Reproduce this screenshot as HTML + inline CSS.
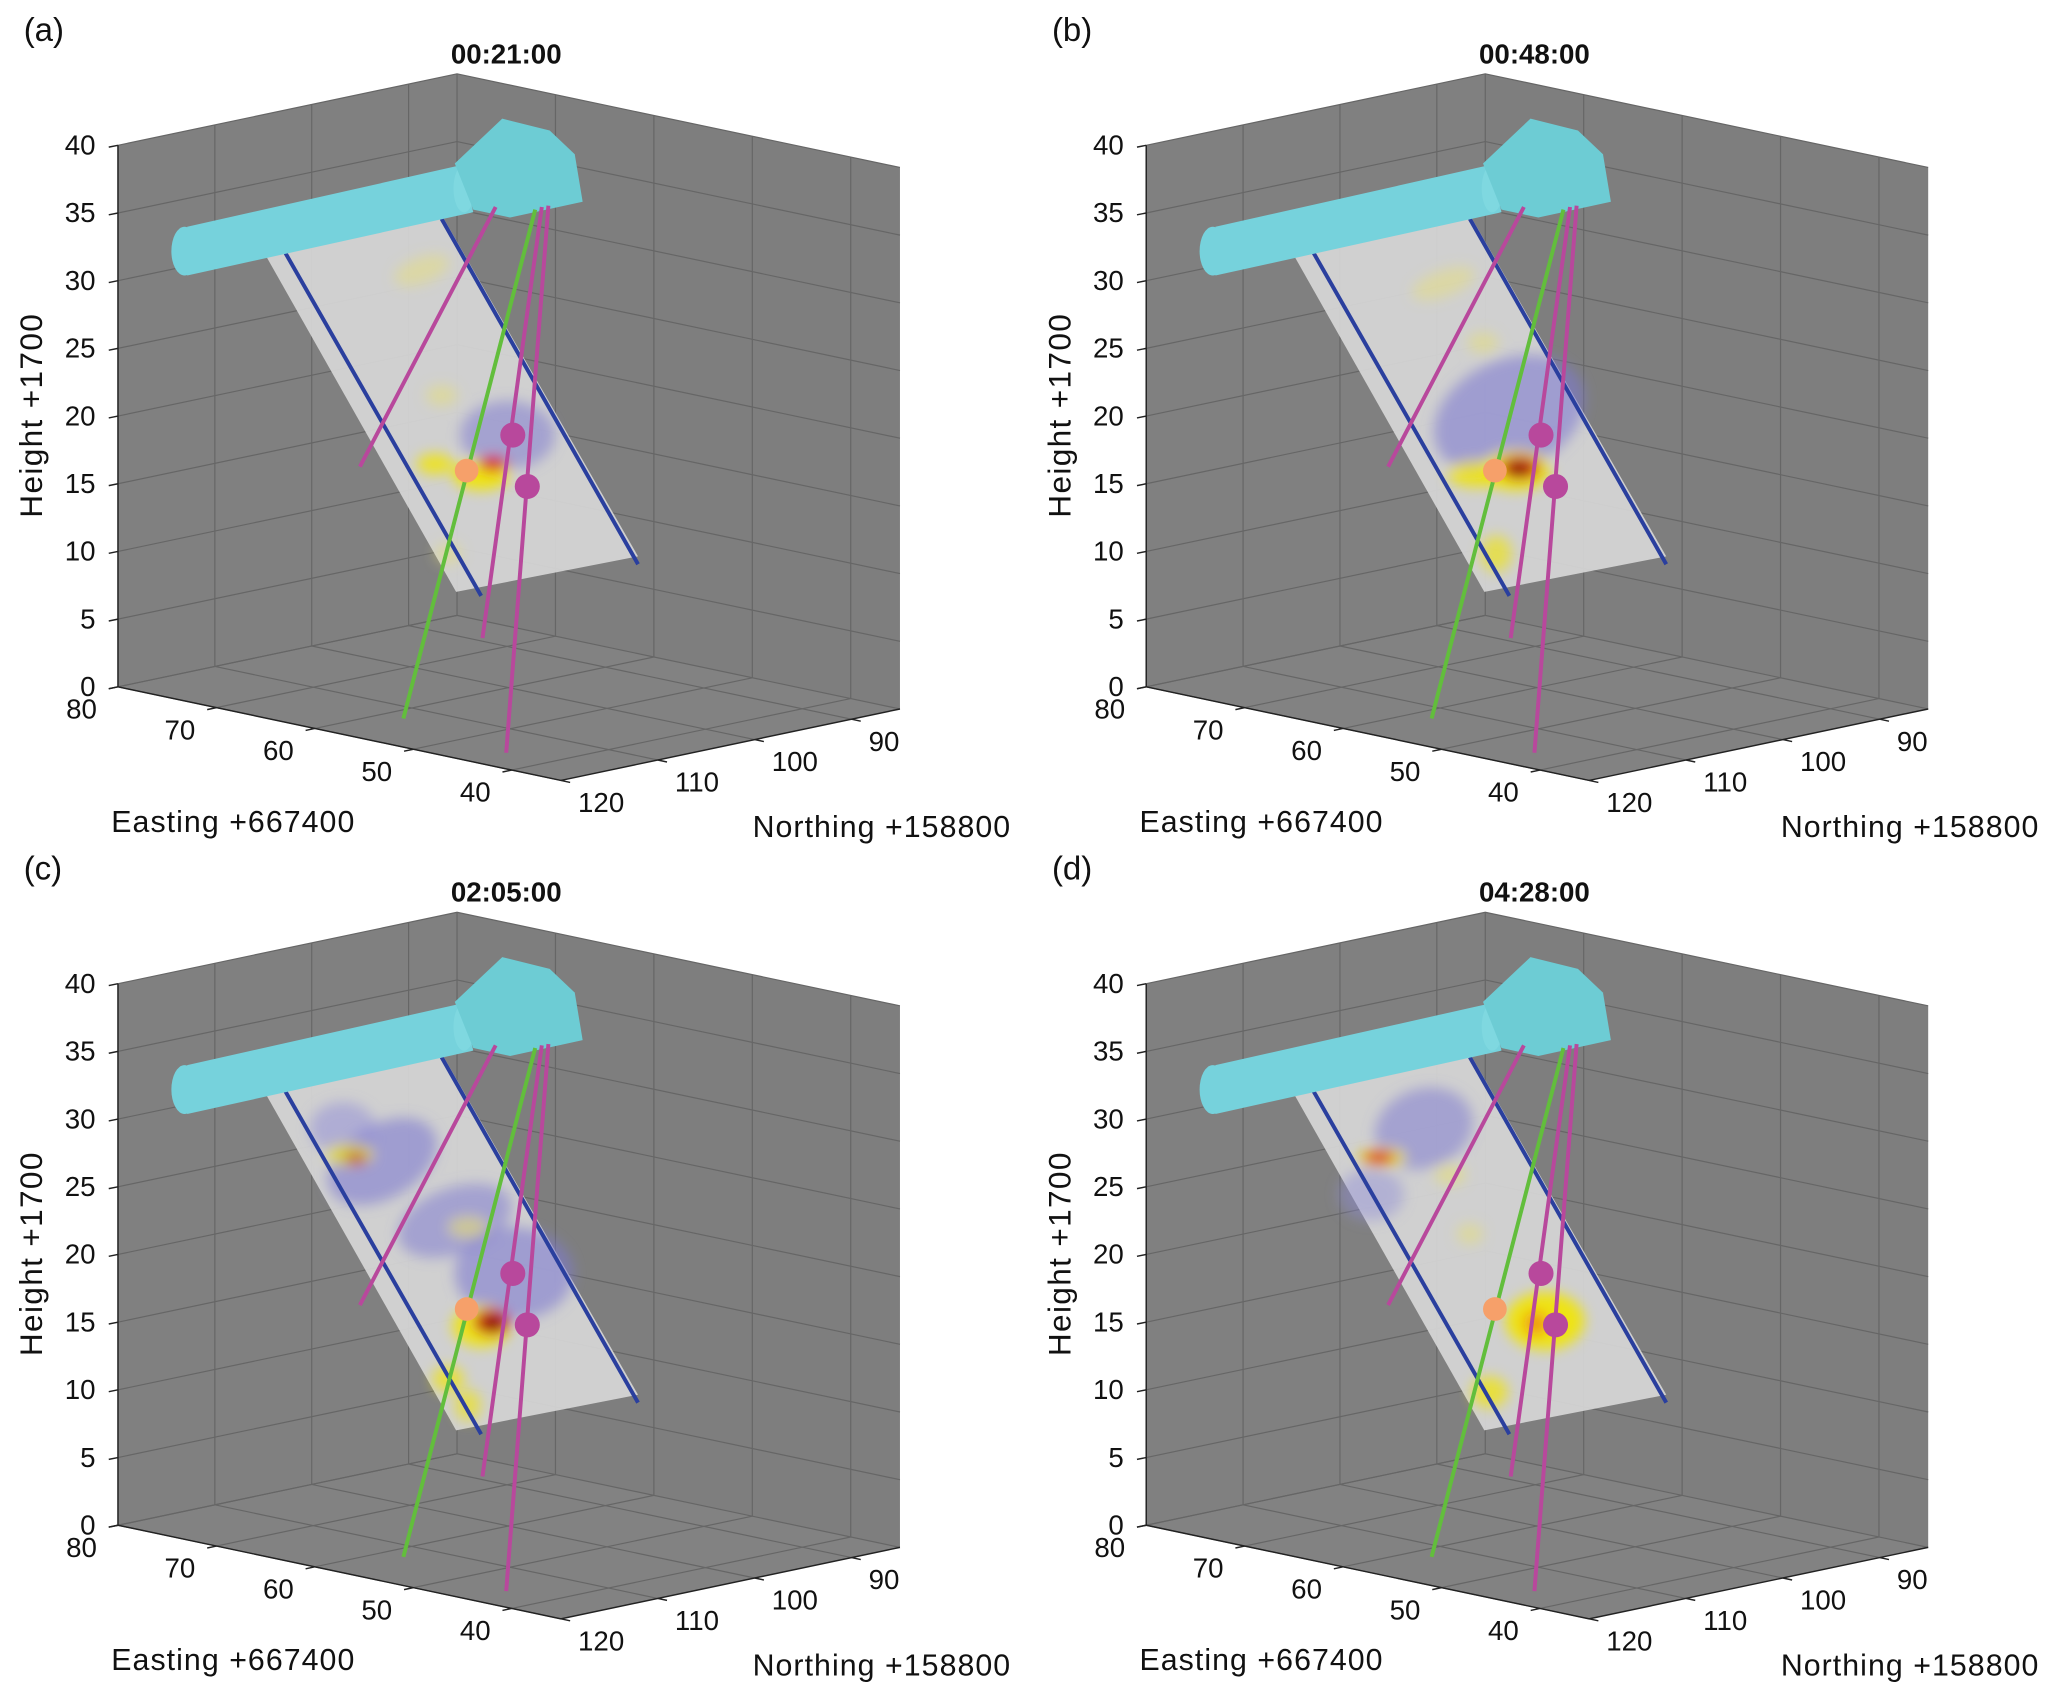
<!DOCTYPE html>
<html><head><meta charset="utf-8"><style>
html,body{margin:0;padding:0;background:#fff}
svg{display:block}
text{font-family:"Liberation Sans","DejaVu Sans",sans-serif;fill:#111}
</style></head><body>
<svg id="fig" width="2067" height="1694" viewBox="0 0 1568 1285" xmlns="http://www.w3.org/2000/svg">
<defs>
<filter id="blur" x="-50%" y="-50%" width="200%" height="200%"><feGaussianBlur stdDeviation="5"/></filter>
</defs>
</svg>
<script>
// axis data
const zTicks=[0,5,10,15,20,25,30,35,40];
const eTicks=[80,70,60,50,40];
const nTicks=[120,110,100,90];
const eRange=[35,80], nRange=[85,120], zRange=[0,40];
const panelLabels=['(a)','(b)','(c)','(d)'];
const panelTitles=['00:21:00','00:48:00','02:05:00','04:28:00'];
const panelOffsets=[[0,0],[780,0],[0,636],[780,636]];
// heatmap blobs per panel: [cx, cy, rx, ry, rotation, colour, opacity]
const blobsA=[[385,330,36,26,0,'#7f7cd0',0.55],[330,352,14,8,0,'#f2e600',0.8],[365,360,22,12,0,'#f2e600',0.9],[374,352,11,6,0,'#d81b1b',0.95],[320,205,22,10,-20,'#e8e070',0.45],[335,300,12,8,0,'#e8e070',0.5],[340,420,10,8,0,'#e8e070',0.5]];
const blobsB=[[365,315,60,42,-25,'#7f7cd0',0.6],[340,360,22,10,0,'#f2e600',0.8],[370,357,26,15,0,'#f2e600',0.9],[373,355,15,9,0,'#c81414',0.95],[372,356,6,4,0,'#3a0000',0.9],[355,420,12,14,0,'#f2e600',0.6],[315,215,25,10,-20,'#e8e070',0.45],[345,260,12,8,0,'#e8e070',0.5]];
const blobsC=[[290,245,45,28,-30,'#7f7cd0',0.6],[260,220,25,20,0,'#8f8cd8',0.5],[345,290,45,25,-20,'#7f7cd0',0.55],[390,330,45,35,0,'#7f7cd0',0.6],[265,240,18,8,0,'#f2e600',0.7],[270,243,8,5,0,'#c0501e',0.8],[365,370,22,16,0,'#f2e600',0.85],[373,367,14,10,0,'#c81414',0.95],[374,368,6,4,0,'#200000',0.9],[340,410,12,10,0,'#f2e600',0.7],[355,430,10,12,0,'#f2e600',0.6],[355,295,15,8,0,'#e8e070',0.6]];
const blobsD=[[300,220,38,30,-20,'#7f7cd0',0.55],[260,270,25,20,0,'#8f8cd8',0.45],[268,242,18,7,0,'#f2e600',0.85],[266,242,12,5,0,'#d81b1b',0.95],[392,366,30,22,0,'#f2e600',0.9],[385,368,9,9,0,'#f08a10',0.9],[350,420,14,12,0,'#f2e600',0.7],[320,255,12,8,0,'#e8e070',0.55],[335,300,10,8,0,'#e8e070',0.5]];
const blobSets=[blobsA,blobsB,blobsC,blobsD];
// scene features (panel-local projected coordinates)
const planePts=[[200,191],[335,163],[484,422],[346,449]];
const blueLines=[[216,191,365,452],[335,166,484,428]];
const magentaLines=[[376,157,273,354],[416,156,384,571],[411,157,366,484]];
const greenLines=[[406,159,306,545]];
const magentaDots=[[389,330],[400,369]];
const orangeDots=[[354,357]];
const boxPts=[[345,124],[381,90],[417,99],[436,117],[442,153],[387,165],[359,159]];

const NS='http://www.w3.org/2000/svg';
const svg=document.getElementById('fig');
function el(tag,attrs,parent){const e=document.createElementNS(NS,tag);for(const k in attrs)e.setAttribute(k,attrs[k]);(parent||svg).appendChild(e);return e;}
const LB=[89.5,521];
const dEv=[336/45,71/45];
const dNv=[257.2/35,-54.2/35];
const dZ=410.8/40;
function P(E,N,Z){return [LB[0]+(eRange[1]-E)*dEv[0]+(nRange[1]-N)*dNv[0], LB[1]+(eRange[1]-E)*dEv[1]+(nRange[1]-N)*dNv[1]-(Z-zRange[0])*dZ];}
function pts(a){return a.map(p=>p.join(',')).join(' ');}

panelOffsets.forEach((off,i)=>{
  const g=el('g',{transform:`translate(${off[0]},${off[1]})`});
  
  
  const E0=eRange[0],E1=eRange[1],N0=nRange[0],N1=nRange[1],Z0=zRange[0],Z1=zRange[1];
  const left=el('polygon',{points:pts([P(E1,N1,Z0),P(E1,N1,Z1),P(E1,N0,Z1),P(E1,N0,Z0)]),fill:'#808080'},g);
  
  const right=el('polygon',{points:pts([P(E1,N0,Z0),P(E1,N0,Z1),P(E0,N0,Z1),P(E0,N0,Z0)]),fill:'#7e7e7e'},g);
  
  const floor=el('polygon',{points:pts([P(E1,N1,Z0),P(E1,N0,Z0),P(E0,N0,Z0),P(E0,N1,Z0)]),fill:'#828282'},g);
  
  const grid=el('g',{stroke:'#666',"stroke-width":0.9,fill:'none'},g);
  
  zTicks.forEach(z=>{const a=P(E1,N1,z),b=P(E1,N0,z),c=P(E0,N0,z);el('polyline',{points:pts([a,b,c])},grid);});
  nTicks.forEach(n=>{const a=P(E0,n,Z0),b=P(E1,n,Z0),c=P(E1,n,Z1);el('polyline',{points:pts([a,b,c])},grid);});
  eTicks.forEach(e=>{const a=P(e,N1,Z0),b=P(e,N0,Z0),c=P(e,N0,Z1);el('polyline',{points:pts([a,b,c])},grid);});
  const ax=el('g',{stroke:'#222',"stroke-width":1.1,fill:'none'},g);
  
  el('polyline',{points:pts([P(E1,N1,Z1),P(E1,N1,Z0),P(E0,N1,Z0),P(E0,N0,Z0)])},ax);
  zTicks.forEach(z=>{const a=P(E1,N1,z);el('line',{x1:a[0],y1:a[1],x2:a[0]-7,y2:a[1]+1.4},ax);});
  eTicks.forEach(e=>{const a=P(e,N1,Z0);el('line',{x1:a[0],y1:a[1],x2:a[0]-7,y2:a[1]+1.5},ax);});
  nTicks.forEach(n=>{const a=P(E0,n,Z0);el('line',{x1:a[0],y1:a[1],x2:a[0]+7,y2:a[1]+1.5},ax);});
  zTicks.forEach(z=>{const a=P(E1,N1,z);const t=el('text',{x:a[0]-17,y:a[1]+7,'text-anchor':'end','font-size':21},g);t.textContent=z;
    });
  eTicks.forEach(e=>{const a=P(e,N1,Z0);const t=el('text',{x:a[0]-16,y:a[1]+24,'text-anchor':'end','font-size':21},g);t.textContent=e;
    });
  nTicks.forEach(n=>{const a=P(E0,n,Z0);const t=el('text',{x:a[0]+13,y:a[1]+24,'text-anchor':'start','font-size':21},g);t.textContent=n;
    });
  let t=el('text',{x:0,y:0,transform:'translate(32,315) rotate(-90)','text-anchor':'middle','font-size':24,'letter-spacing':1},g);t.textContent='Height +1700';
  
  t=el('text',{x:177,y:631,'text-anchor':'middle','font-size':23,'letter-spacing':0.8},g);t.textContent='Easting +667400';
  
  t=el('text',{x:669,y:635,'text-anchor':'middle','font-size':23,'letter-spacing':0.8},g);t.textContent='Northing +158800';
  
  t=el('text',{x:384,y:48,'text-anchor':'middle','font-size':21,'font-weight':'bold'},g);t.textContent=panelTitles[i];
  
  t=el('text',{x:18,y:31,'font-size':25},g);t.textContent=panelLabels[i];
  
  const pl=el('polygon',{points:pts(planePts),fill:'#d6d6d6','fill-opacity':0.93},g);
  
  const strip=el('line',{x1:planePts[0][0],y1:planePts[0][1]-2,x2:planePts[1][0],y2:planePts[1][1]-2,stroke:'#bff0f4','stroke-width':5},g);
  
  const hm=el('g',{filter:'url(#blur)'},g);
  
  blobSets[i].forEach(b=>{const e=el('ellipse',{cx:b[0],cy:b[1],rx:b[2],ry:b[3],transform:`rotate(${b[4]} ${b[0]} ${b[1]})`,fill:b[5],'fill-opacity':b[6]},hm);
    });
  blueLines.forEach(l=>{const e=el('line',{x1:l[0],y1:l[1],x2:l[2],y2:l[3],stroke:'#2a3f9e','stroke-width':3},g);
    });
  const cyl=el('polygon',{points:pts([[142,172],[351,125],[359,161],[142,209]]),fill:'#76d2dc'},g);
  
  const cap=el('ellipse',{cx:140,cy:190.5,rx:10,ry:18.5,fill:'#76d2dc'},g);
  
  const cap2=el('ellipse',{cx:352,cy:143,rx:8,ry:18,fill:'#7fd8e0'},g);
  
  const box=el('polygon',{points:pts(boxPts),fill:'#6dccd4'},g);
  
  greenLines.forEach(l=>{const e=el('line',{x1:l[0],y1:l[1],x2:l[2],y2:l[3],stroke:'#62be3c','stroke-width':3},g);
    });
  magentaLines.forEach(l=>{const e=el('line',{x1:l[0],y1:l[1],x2:l[2],y2:l[3],stroke:'#b8489c','stroke-width':3},g);
    });
  magentaDots.forEach(d=>{const e=el('circle',{cx:d[0],cy:d[1],r:9.5,fill:'#b8489c'},g);
    });
  orangeDots.forEach(d=>{const e=el('circle',{cx:d[0],cy:d[1],r:9,fill:'#f6a06a'},g);
    });
});
</script>
</body></html>
